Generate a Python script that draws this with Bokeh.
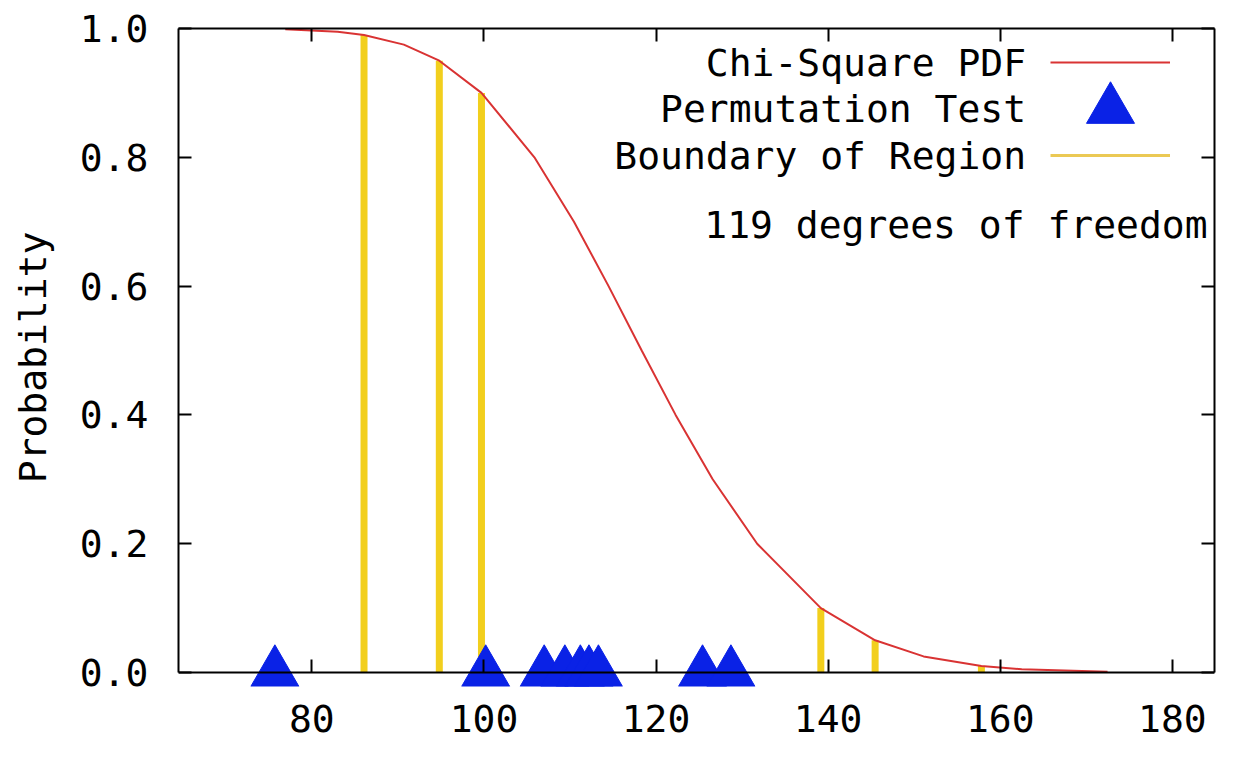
from bokeh.plotting import figure
from bokeh.models import (Range1d, LinearAxis, FixedTicker, NumeralTickFormatter,
                          Label, Legend, LegendItem)
from bokeh.embed import file_html
from bokeh.resources import INLINE

# ---------------- data ----------------
chi_prob = [0.999, 0.995, 0.99, 0.975, 0.95, 0.90, 0.80, 0.70, 0.60, 0.50,
            0.40, 0.30, 0.20, 0.10, 0.05, 0.025, 0.01, 0.005, 0.001]
chi_x = [76.91, 83.00, 86.06, 90.69, 94.81, 99.71, 105.86, 110.46, 114.48, 118.33,
         122.27, 126.58, 131.75, 139.15, 145.46, 151.09, 157.81, 162.50, 172.47]
boundary_x = [86.06, 94.81, 99.71, 139.15, 145.46, 157.81]
boundary_prob = [0.99, 0.95, 0.90, 0.10, 0.05, 0.01]
boundary_base = [0.0, 0.0, 0.0, 0.0, 0.0, 0.0]
perm_x = [75.7, 100.2, 107.0, 109.4, 111.2, 112.2, 113.3, 125.4, 128.7]
perm_y = [0.0, 0.0, 0.0, 0.0, 0.0, 0.0, 0.0, 0.0, 0.0]
x_ticks = [80, 100, 120, 140, 160, 180]
x_tick_labels = ["80", "100", "120", "140", "160", "180"]
y_ticks = [0.0, 0.2, 0.4, 0.6, 0.8, 1.0]
legend_labels = ["Chi-Square PDF", "Permutation Test", "Boundary of Region"]
dof_text = "119 degrees of freedom"
y_label = "Probability"

# ---------------- style ----------------
FONT = "DejaVu Sans Mono"
FS = "38px"
RED = "#d93333"
GOLD = "#f2cf1d"
GOLD_THIN = "#ebc954"
BLUE = "#0a22e6"
W, H = 1219, 741
B_LEFT, B_RIGHT, B_TOP, B_BOTTOM = 178, 5, 28, 55
FRAME_W = W - B_LEFT - B_RIGHT
FRAME_H = H - B_TOP - B_BOTTOM
BELOW_ZERO_PX = 14
X0, X1 = 64.5, 184.9
Y1 = 1.0
Y0 = -BELOW_ZERO_PX / (FRAME_H - BELOW_ZERO_PX)

p = figure(width=W, height=H, x_range=Range1d(X0, X1), y_range=Range1d(Y0, Y1),
           output_backend="svg", toolbar_location=None,
           min_border_left=B_LEFT, min_border_right=B_RIGHT,
           min_border_top=B_TOP, min_border_bottom=B_BOTTOM)
p.outline_line_color = None
p.grid.visible = False
p.background_fill_color = "white"
p.border_fill_color = "white"

# bottom axis: tick labels only
xa = p.xaxis[0]
xa.ticker = FixedTicker(ticks=x_ticks)
xa.major_label_overrides = {t: s for t, s in zip(x_ticks, x_tick_labels)}
xa.axis_line_color = None
xa.major_tick_line_color = None
xa.minor_tick_line_color = None
xa.major_tick_in = 0
xa.major_tick_out = 0
xa.major_label_text_font = FONT
xa.major_label_text_font_size = FS
xa.major_label_text_color = "black"
xa.major_label_standoff = 18

# axis line and ticks at y = 0
za = LinearAxis(ticker=FixedTicker(ticks=x_ticks), fixed_location=0,
                major_label_overrides={t: "" for t in x_ticks},
                major_label_standoff=0,
                major_tick_in=13, major_tick_out=0, major_tick_line_width=2,
                major_tick_line_color="black",
                minor_tick_line_color=None, axis_line_width=2, axis_line_color="black")
p.add_layout(za, "below")

# left axis
ya = p.yaxis[0]
ya.ticker = FixedTicker(ticks=y_ticks)
ya.formatter = NumeralTickFormatter(format="0.0")
ya.bounds = (0, 1)
ya.axis_line_color = "black"
ya.axis_line_width = 2
ya.major_tick_in = 13
ya.major_tick_out = 0
ya.major_tick_line_width = 2
ya.major_tick_line_color = "black"
ya.minor_tick_line_color = None
ya.major_label_text_font = FONT
ya.major_label_text_font_size = FS
ya.major_label_text_color = "black"
ya.major_label_standoff = 30
ya.axis_label = y_label
ya.axis_label_text_font = FONT
ya.axis_label_text_font_size = FS
ya.axis_label_text_font_style = "normal"
ya.axis_label_text_color = "black"
ya.axis_label_standoff = 22

# mirrored ticks on top and right (no labels)
ta = LinearAxis(ticker=FixedTicker(ticks=x_ticks),
                major_label_overrides={t: "" for t in x_ticks},
                major_label_standoff=0, major_tick_in=13, major_tick_out=0,
                major_tick_line_width=2, major_tick_line_color="black",
                minor_tick_line_color=None,
                axis_line_width=2, axis_line_color="black")
p.add_layout(ta, "above")
ra = LinearAxis(ticker=FixedTicker(ticks=y_ticks), bounds=(0, 1),
                major_label_overrides={t: "" for t in y_ticks},
                major_label_standoff=0, major_tick_in=13, major_tick_out=0,
                major_tick_line_width=2, major_tick_line_color="black",
                minor_tick_line_color=None,
                axis_line_width=2, axis_line_color="black")
p.add_layout(ra, "right")

# ---------------- glyphs ----------------
thin = p.segment(x0=boundary_x, y0=boundary_base, x1=boundary_x, y1=boundary_prob,
                 line_color=GOLD_THIN, line_width=3)
p.segment(x0=boundary_x, y0=boundary_base, x1=boundary_x, y1=boundary_prob,
          line_color=GOLD, line_width=7)
curve = p.line(chi_x, chi_prob, line_color=RED, line_width=2)
tri = p.scatter(perm_x, perm_y, marker="triangle", size=48,
                fill_color=BLUE, line_color=BLUE, line_width=1)

# ---------------- key ----------------
row_y = [0.9472, 0.8748, 0.8024]
key_x0, key_x1 = 165.8, 179.8
key_left = (key_x0 - X0) / (X1 - X0) * FRAME_W
key_w = (key_x1 - key_x0) / (X1 - X0) * FRAME_W


def from_bottom(yv):
    return (yv - Y0) / (Y1 - Y0) * FRAME_H


def add_key(r, yv, gh):
    lg = Legend(items=[LegendItem(label="", renderers=[r])],
                location=(key_left, from_bottom(yv) - gh / 2.0),
                glyph_width=int(round(key_w)), glyph_height=gh, padding=0, margin=0,
                spacing=0, label_standoff=0, label_width=0, label_height=0,
                label_text_font_size="1px", border_line_color=None,
                background_fill_alpha=0)
    p.add_layout(lg, "center")


add_key(curve, row_y[0], 20)
add_key(tri, row_y[1], 120)
add_key(thin, row_y[2], 20)

for txt, yv in zip(legend_labels, row_y):
    p.add_layout(Label(x=163.0, y=yv, text=txt, text_align="right", text_baseline="middle",
                       text_font=FONT, text_font_size=FS, text_color="black"))
p.add_layout(Label(x=184.1, y=0.6953, text=dof_text, text_align="right",
                   text_baseline="middle", text_font=FONT, text_font_size=FS,
                   text_color="black"))

open("out.html", "w").write(file_html(p, INLINE))
